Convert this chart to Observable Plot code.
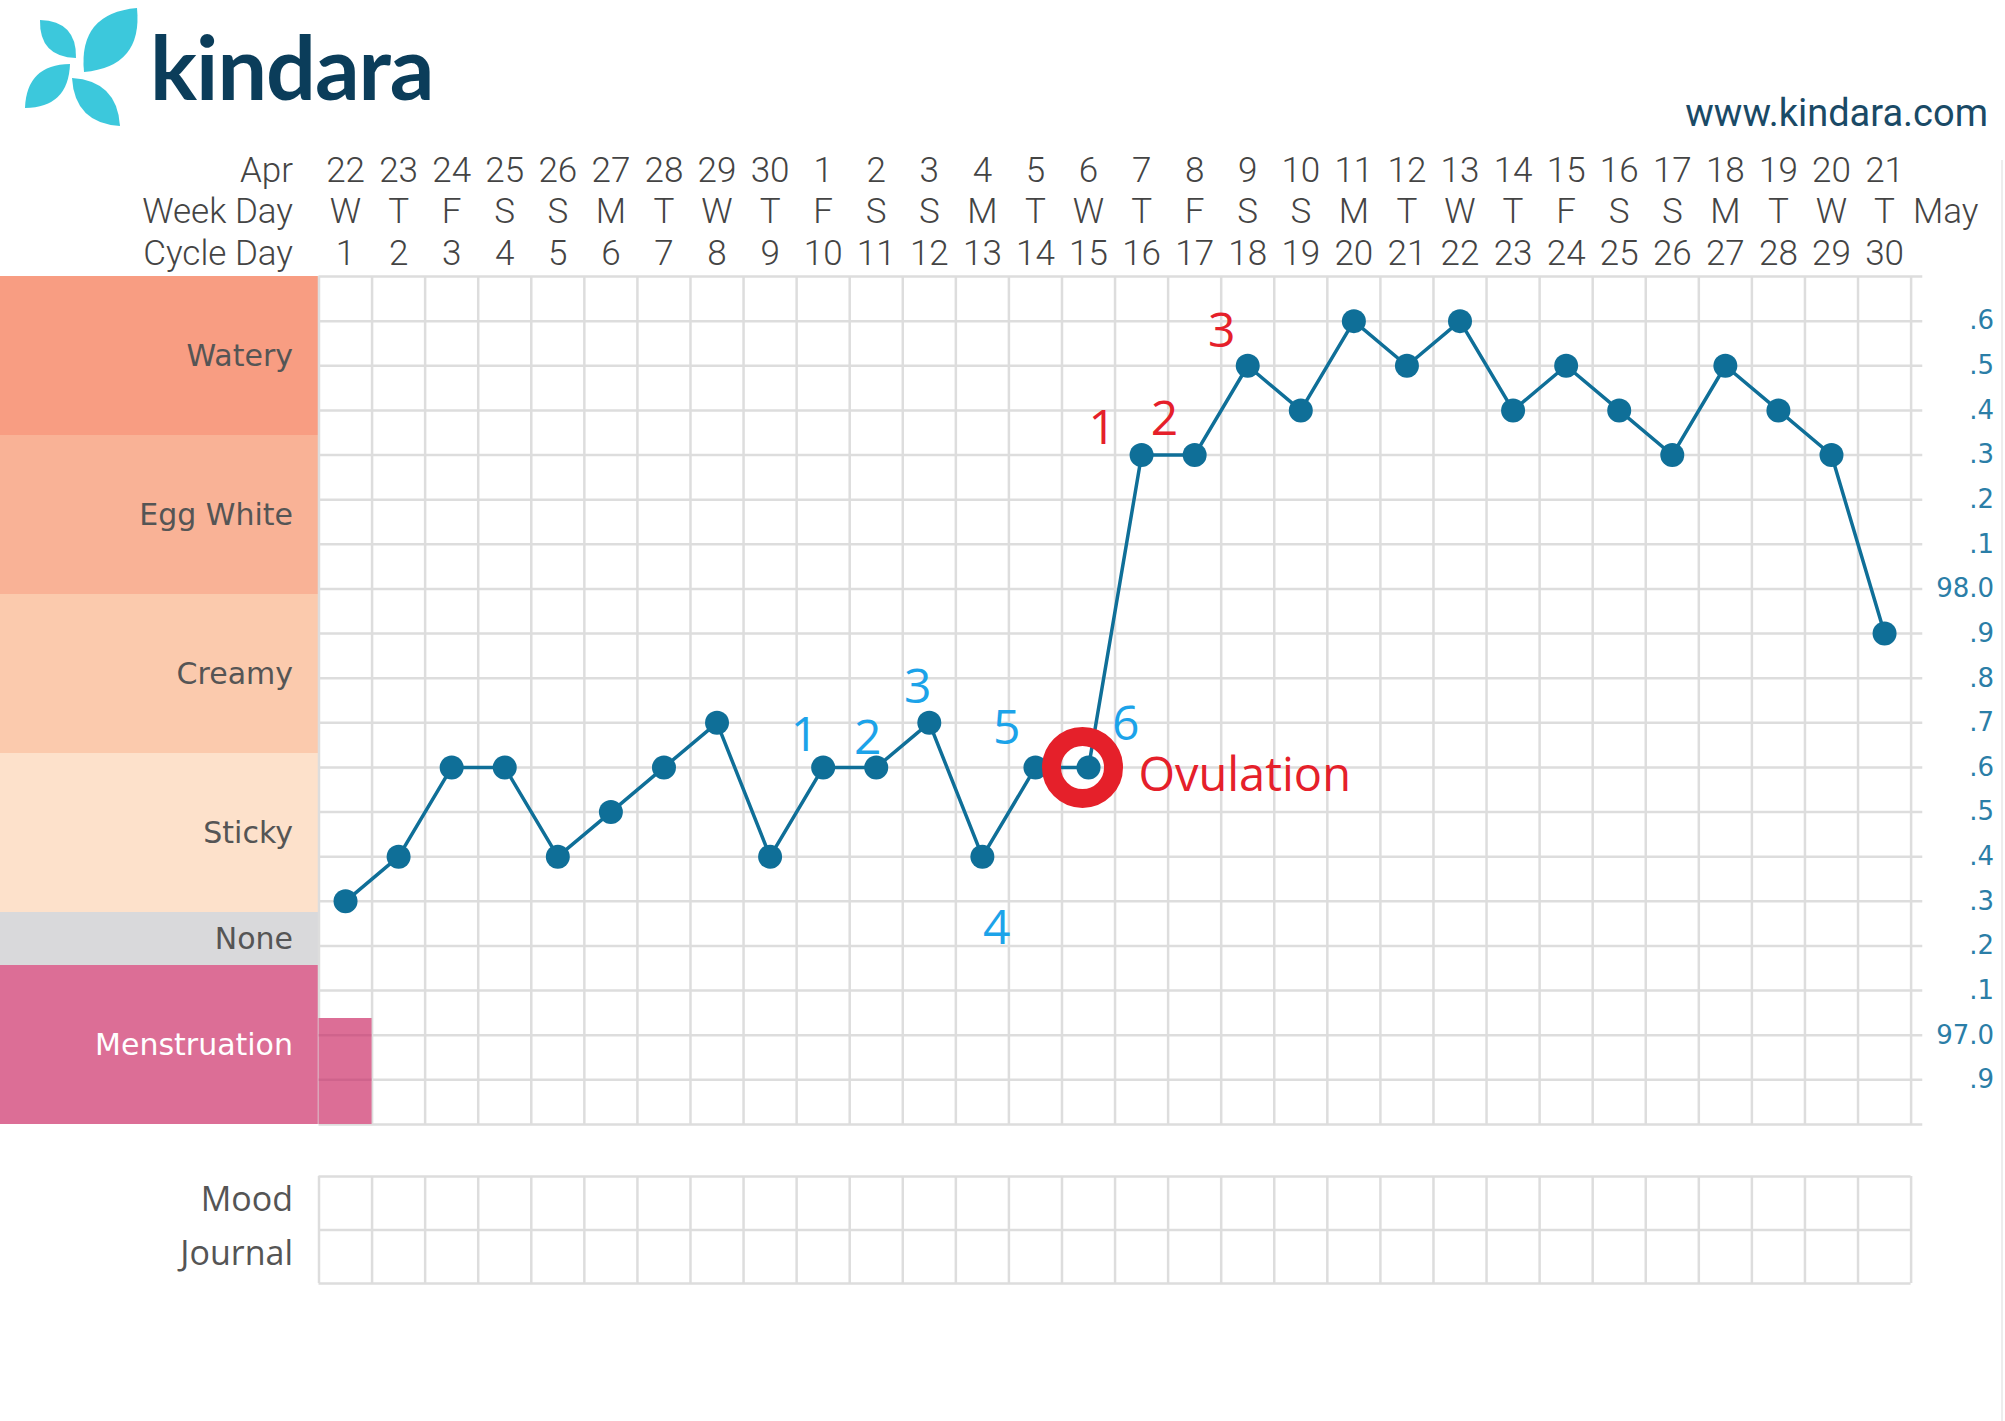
<!DOCTYPE html>
<html>
<head>
<meta charset="utf-8">
<script src="https://cdn.jsdelivr.net/npm/d3@7"></script>
<script src="https://cdn.jsdelivr.net/npm/@observablehq/plot@0.6"></script>
<style>
  html, body { margin: 0; padding: 0; background: #fff; }
  #page { position: relative; width: 2005px; height: 1421px; overflow: hidden; background: #fff; }
  #logo { position: absolute; left: 0; top: 0; }
  #url { position: absolute; right: 17px; top: 89px; font-family: Roboto, sans-serif; font-size: 38px; line-height: 48px; color: #1a4a66; }
  #main { position: absolute; left: 0; top: 0; }
  #mood { position: absolute; left: 0; top: 1170px; }
  #edge { position: absolute; left: 2001px; top: 160px; width: 2px; height: 1261px; background: #ededed; }
</style>
</head>
<body>
<div id="page">
  <svg id="logo" width="470" height="140"></svg>
  <div id="url">www.kindara.com</div>
  <div id="edge"></div>
  <div id="main"></div>
  <div id="mood"></div>
</div>
<script>
// ---------------- data ----------------
const days = [1,2,3,4,5,6,7,8,9,10,11,12,13,14,15,16,17,18,19,20,21,22,23,24,25,26,27,28,29,30];
const dateLabels = ["22","23","24","25","26","27","28","29","30","1","2","3","4","5","6","7","8","9","10","11","12","13","14","15","16","17","18","19","20","21"];
const weekDayLabels = ["W","T","F","S","S","M","T","W","T","F","S","S","M","T","W","T","F","S","S","M","T","W","T","F","S","S","M","T","W","T"];
const cycleDayLabels = ["1","2","3","4","5","6","7","8","9","10","11","12","13","14","15","16","17","18","19","20","21","22","23","24","25","26","27","28","29","30"];
const temperatures = [97.3,97.4,97.6,97.6,97.4,97.5,97.6,97.7,97.4,97.6,97.6,97.7,97.4,97.6,97.6,98.3,98.3,98.5,98.4,98.6,98.5,98.6,98.4,98.5,98.4,98.3,98.5,98.4,98.3,97.9];
const headerTitles = ["Apr", "Week Day", "Cycle Day"];
const nextMonthLabel = "May";
const bandNames = ["Watery", "Egg White", "Creamy", "Sticky", "None", "Menstruation"];
const bandUnits = [3, 3, 3, 3, 1, 3];
const menstruationDays = [1];
const menstruationFlow = [2];           // flow level out of 3
const tempTicks = [98.6,98.5,98.4,98.3,98.2,98.1,98.0,97.9,97.8,97.7,97.6,97.5,97.4,97.3,97.2,97.1,97.0,96.9];
const tempDomain = [96.8, 98.7];
const moodRows = ["Mood", "Journal"];
// hand-written annotations (data coordinates: day, temperature)
const blueNoteLabels = ["1","2","3","4","5","6"];
const blueNoteDays   = [9.65, 10.84, 11.78, 13.27, 13.46, 15.70];
const blueNoteTemps  = [97.672, 97.665, 97.779, 97.239, 97.687, 97.696];
const redNoteLabels  = ["1","2","3"];
const redNoteDays    = [15.26, 16.43, 17.51];
const redNoteTemps   = [98.359, 98.380, 98.577];
const ovulationDay = 15;
const ovulationLabel = "Ovulation";

// ---------------- styles ----------------
const bandColors = ["#f89d82", "#f9b296", "#fbcaad", "#fde1cb", "#d9d9db", "#dc6e96"];
const bandTextColors = ["#555", "#555", "#555", "#555", "#555", "#ffffff"];
const gridColor = "#dddddd";
const lineColor = "#0f6f98";
const axisColor = "#2b7ea7";
const blueNote = "#1ca3e9";
const redNote = "#e5202a";
const headerFont = {fontFamily: "Roboto", fontWeight: 300, fontSize: 35, fill: "#444", lineAnchor: "middle"};

// ---------------- layout ----------------
const W = 2005, H = 1140;
const mL = 318.5, mR = 94.4, mT = 276, mB = 16;
const xDomain = [0.5, 30.5];
const pxPerDay = (W - mL - mR) / (xDomain[1] - xDomain[0]);
const leftEdgeDay = xDomain[0] - mL / pxPerDay;
const totalUnits = d3.sum(bandUnits);
const unitToTemp = u => tempDomain[1] - u * (tempDomain[1] - tempDomain[0]) / totalUnits;
const cum = d3.cumsum([0, ...bandUnits]);
const bands = bandNames.map((name, i) => ({name, i, y1: unitToTemp(cum[i]), y2: unitToTemp(cum[i + 1])}));
const series = days.map((d, i) => ({day: d, temp: temperatures[i]}));
const boundaries = d3.range(xDomain[0], xDomain[1] + 0.01, 1);
const gridTemps = d3.range(0, 20).map(i => +(tempDomain[0] + i * 0.1).toFixed(1));
const menses = menstruationDays.map((d, i) => ({day: d, flow: menstruationFlow[i]}));
const ovulation = series.find(d => d.day === ovulationDay);
const headerRows = [dateLabels, weekDayLabels, cycleDayLabels];
const rowDy = r => -106 + r * 41.5;
const tickFmt = v => { const t = Math.round(v * 10) % 10; return t === 0 ? v.toFixed(1) : "." + t; };

const headerMarks = headerRows.flatMap((labels, r) => [
  Plot.text(days, {x: d => d, text: (d, i) => labels[i], frameAnchor: "top", dy: rowDy(r), ...headerFont}),
  Plot.text([headerTitles[r]], {x: () => xDomain[0], text: d => d, frameAnchor: "top", dy: rowDy(r), dx: -26, textAnchor: "end", ...headerFont})
]);

// grid lines that run across the menstruation cells (shown darker through the fill)
const mensesLines = menses.flatMap(m => gridTemps.filter(t => t > tempDomain[0] && t < unitToTemp(totalUnits - m.flow)).map(t => ({day: m.day, t})));

const main = Plot.plot({
  width: W, height: H,
  marginLeft: mL, marginRight: mR, marginTop: mT, marginBottom: mB,
  x: {domain: xDomain, axis: null},
  y: {domain: tempDomain, axis: null},
  color: {type: "identity"},
  style: {background: "transparent", overflow: "visible"},
  marks: [
    Plot.rect(bands, {x1: () => leftEdgeDay, x2: () => xDomain[0], y1: "y1", y2: "y2", fill: d => bandColors[d.i]}),
    Plot.ruleY(gridTemps, {y: d => d, x1: () => xDomain[0], x2: () => xDomain[1] + 0.22, stroke: gridColor, strokeWidth: 2.5}),
    Plot.ruleX(boundaries, {x: d => d, y1: () => tempDomain[0], y2: () => tempDomain[1], stroke: gridColor, strokeWidth: 2.5}),
    Plot.rect(menses, {x1: d => d.day - 0.5, x2: d => d.day + 0.5, y1: () => tempDomain[0], y2: d => unitToTemp(totalUnits - d.flow), fill: bandColors[5]}),
    Plot.ruleY(mensesLines, {y: "t", x1: d => d.day - 0.5, x2: d => d.day + 0.5, stroke: "#b8507a", strokeOpacity: 0.35, strokeWidth: 2.5}),
    Plot.text(bands, {x: () => xDomain[0], y: d => (d.y1 + d.y2) / 2, text: "name", dx: -26, textAnchor: "end", fill: d => bandTextColors[d.i], fontFamily: "DejaVu Sans", fontSize: 30}),
    Plot.line(series, {x: "day", y: "temp", stroke: lineColor, strokeWidth: 3.5}),
    Plot.dot(series, {x: "day", y: "temp", r: 12, fill: lineColor}),
    Plot.dot([ovulation], {x: "day", y: "temp", r: 31, dx: -6, stroke: redNote, strokeWidth: 19, fill: "none"}),
    Plot.text(tempTicks, {y: d => d, text: tickFmt, frameAnchor: "right", dx: 83, textAnchor: "end", lineAnchor: "middle", fill: axisColor, fontFamily: "DejaVu Sans", fontSize: 26}),
    ...headerMarks,
    Plot.text([nextMonthLabel], {x: () => days[days.length - 1] + 1, text: d => d, frameAnchor: "top", dy: rowDy(1), dx: 8, ...headerFont}),
    Plot.text(blueNoteLabels, {x: (d, i) => blueNoteDays[i], y: (d, i) => blueNoteTemps[i], text: d => d, fill: blueNote, fontFamily: "Open Sans", fontSize: 48}),
    Plot.text(redNoteLabels, {x: (d, i) => redNoteDays[i], y: (d, i) => redNoteTemps[i], text: d => d, fill: redNote, fontFamily: "Open Sans", fontSize: 48}),
    Plot.text([ovulationLabel], {x: () => ovulation.day + 0.94, y: () => ovulation.temp - 0.018, text: d => d, textAnchor: "start", fill: redNote, fontFamily: "Open Sans", fontSize: 47})
  ]
});
document.getElementById("main").appendChild(main);

const mood = Plot.plot({
  width: W, height: 123,
  marginLeft: mL, marginRight: mR, marginTop: 6, marginBottom: 10,
  x: {domain: xDomain, axis: null},
  y: {domain: [0, moodRows.length], reverse: true, axis: null},
  style: {background: "transparent", overflow: "visible"},
  marks: [
    Plot.ruleY(d3.range(0, moodRows.length + 1), {y: d => d, x1: () => xDomain[0], x2: () => xDomain[1], stroke: gridColor, strokeWidth: 2.5}),
    Plot.ruleX(boundaries, {x: d => d, y1: () => 0, y2: () => moodRows.length, stroke: gridColor, strokeWidth: 2.5}),
    Plot.text(moodRows, {x: () => xDomain[0], y: (d, i) => i + 0.45, text: d => d, dx: -26, textAnchor: "end", fontFamily: "Open Sans", fontSize: 34, fill: "#555"})
  ]
});
document.getElementById("mood").appendChild(mood);

// ---------------- logo ----------------
const logo = d3.select("#logo");
const leaf = (x1, y1, x2, y2, w) => {
  const mx = (x1 + x2) / 2, my = (y1 + y2) / 2, dx = x2 - x1, dy = y2 - y1, len = Math.hypot(dx, dy);
  const nx = -dy / len, ny = dx / len;
  return `M${x1},${y1}Q${mx + nx * w},${my + ny * w} ${x2},${y2}Q${mx - nx * w},${my - ny * w} ${x1},${y1}Z`;
};
const leaves = [[40, 20, 76, 58, 26], [84, 72, 137, 8, 42], [70, 64, 25, 108, 30], [72, 78, 120, 126, 30]];
logo.selectAll("path").data(leaves).join("path").attr("d", d => leaf(...d)).attr("fill", "#3cc8dc");
logo.append("text").attr("x", 150).attr("y", 100).attr("font-family", "Lato").attr("font-weight", 700)
  .attr("font-size", 88).attr("letter-spacing", -1).attr("fill", "#0b3d5a").text("kindara");
</script>
</body>
</html>
